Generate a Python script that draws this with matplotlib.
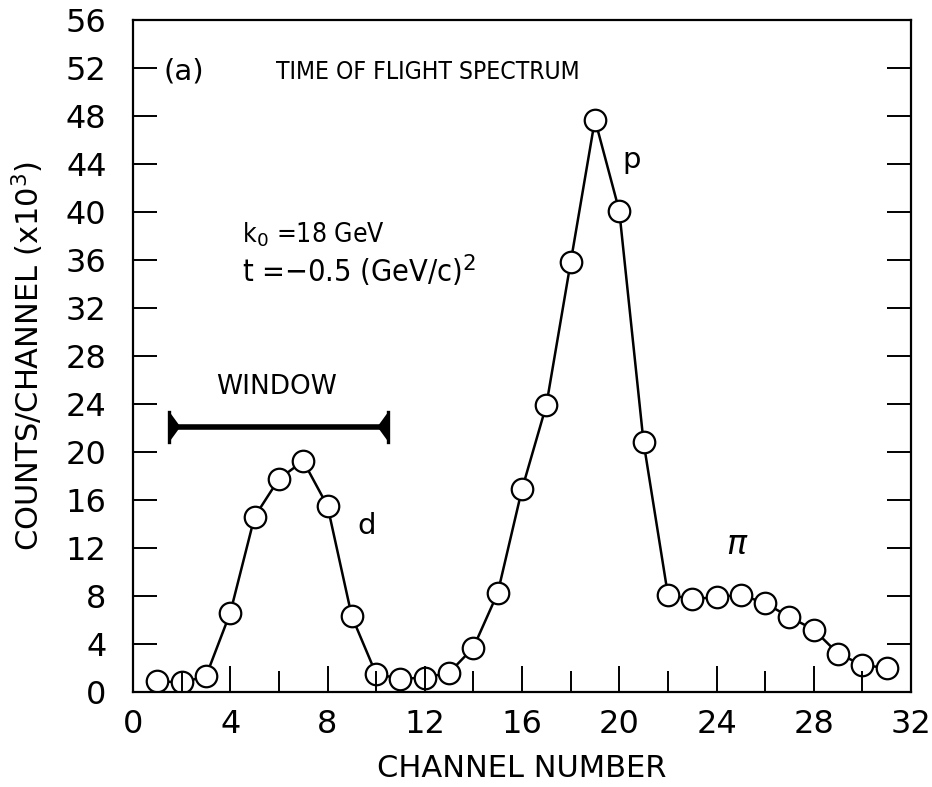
import matplotlib
matplotlib.use("Agg")
import matplotlib.pyplot as plt
from matplotlib.ticker import MultipleLocator

# ---- data (counts per channel, x10^3) ----
channels = list(range(1, 32))
counts = [0.9, 0.8, 1.3, 6.6, 14.6, 17.75, 19.25, 15.5, 6.3, 1.5,
          1.1, 1.2, 1.6, 3.7, 8.25, 16.9, 23.9, 35.8, 47.7, 40.1,
          20.8, 8.1, 7.75, 7.9, 8.1, 7.4, 6.25, 5.2, 3.2, 2.25, 2.0]
x_ticks = [0, 4, 8, 12, 16, 20, 24, 28, 32]
y_ticks = [0, 4, 8, 12, 16, 20, 24, 28, 32, 36, 40, 44, 48, 52, 56]
window_start, window_end, window_level = 1.5, 10.5, 22.1

plt.rcParams['font.family'] = ['DejaVu Sans']
plt.rcParams['mathtext.fontset'] = 'custom'
plt.rcParams['mathtext.rm'] = 'DejaVu Sans'

fig = plt.figure(figsize=(9.32, 7.87), dpi=100)
ax = fig.add_axes([0.1427, 0.1207, 0.8348, 0.8539])
ax.set_axisbelow(False)

ax.plot(channels, counts, color='black', lw=1.8, marker='o', ms=15.5,
        mfc='white', mec='black', mew=1.6, zorder=2)

# window bar
ax.plot([window_start, window_end], [window_level, window_level],
        color='black', lw=4, solid_capstyle='butt', zorder=3)
fin_h, fin_w = 1.25, 0.45
for xe, d in ((window_start, 1), (window_end, -1)):
    ax.fill([xe, xe, xe + d * fin_w], [window_level - fin_h, window_level + fin_h, window_level],
            color='black', lw=0, zorder=3)
    ax.plot([xe, xe], [window_level - fin_h, window_level + fin_h],
            color='black', lw=2.4, zorder=3)

ax.set_xlim(0, 32)
ax.set_ylim(0, 56)
ax.set_xticks(x_ticks)
ax.set_yticks(y_ticks)
ax.xaxis.set_minor_locator(MultipleLocator(2))
ax.tick_params(axis='x', which='major', direction='in', length=19, width=1.4,
               labelsize=23, pad=12, top=False)
ax.tick_params(axis='x', which='minor', direction='in', length=15, width=1.4,
               top=False)
ax.tick_params(axis='y', which='major', direction='in', length=17, width=1.4,
               labelsize=23, pad=19, right=True)
for s in ax.spines.values():
    s.set_linewidth(1.6)

ax.set_xlabel('CHANNEL NUMBER', fontsize=22, labelpad=10)
ax.set_ylabel('COUNTS/CHANNEL (x10$^3$)', fontsize=22, labelpad=14)

ax.text(2.1, 51.7, '(a)', fontsize=21, ha='center', va='center')
ax.text(5.9, 51.7, 'TIME OF FLIGHT SPECTRUM', fontsize=17.7, fontstretch='condensed',
        ha='left', va='center')
ax.text(4.5, 38.1, 'k$_0$ =18 GeV', fontsize=19, fontstretch='condensed',
        ha='left', va='center')
ax.text(4.5, 35.1, 't =\u22120.5 (GeV/c)$^2$', fontsize=22, fontstretch='condensed',
        ha='left', va='center')
ax.text(5.9, 25.4, 'WINDOW', fontsize=19, ha='center', va='center')
ax.text(20.5, 44.3, 'p', fontsize=21, ha='center', va='center')
ax.text(9.6, 13.8, 'd', fontsize=21, ha='center', va='center')
ax.text(24.85, 12.3, '$\\pi$', fontsize=24, ha='center', va='center')

fig.savefig('out.png', dpi=100)
